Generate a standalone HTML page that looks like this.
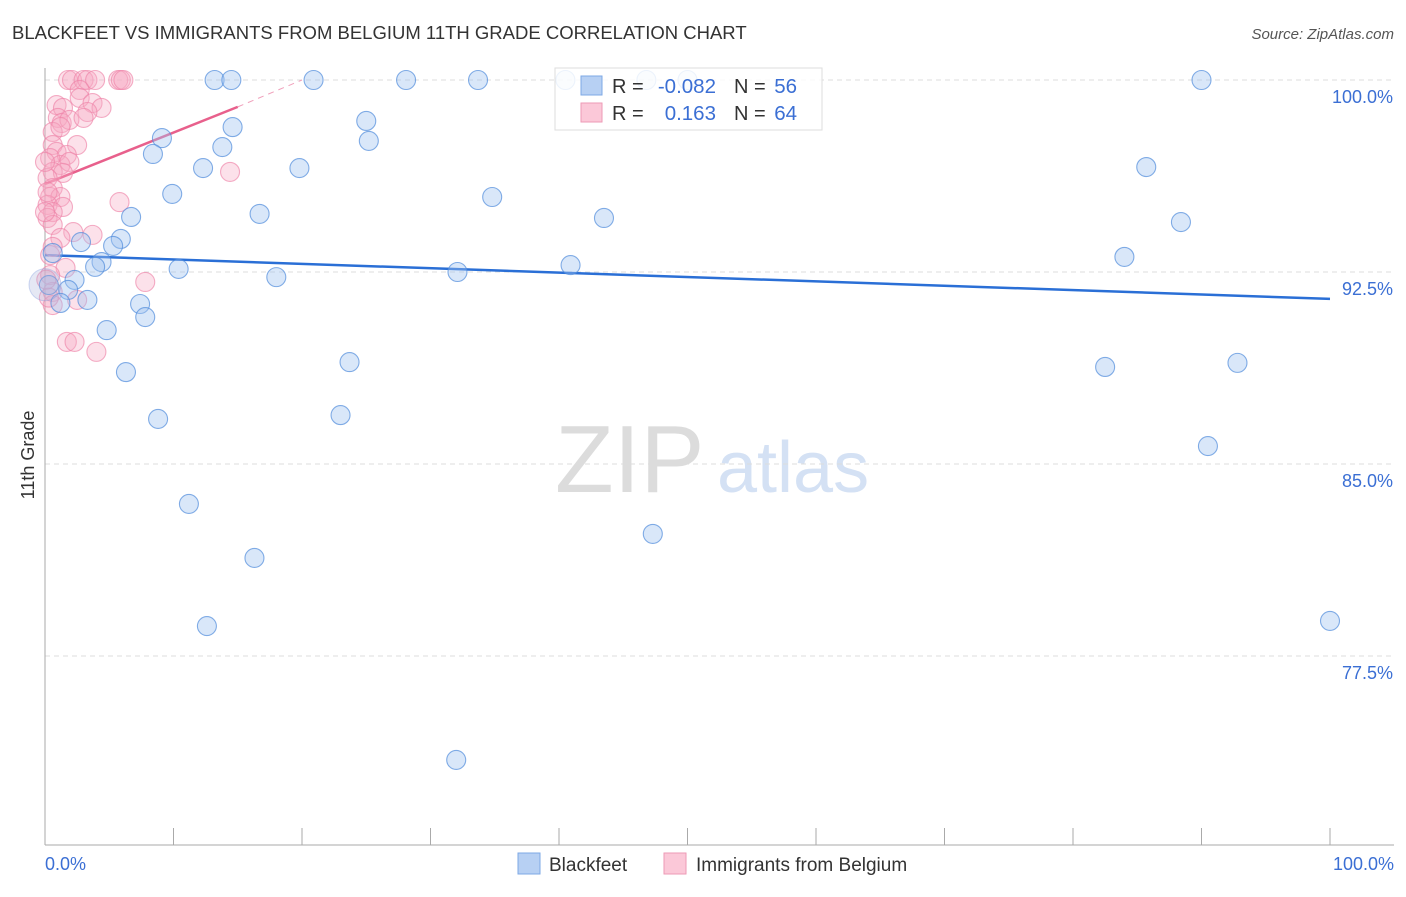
<!DOCTYPE html>
<html><head><meta charset="utf-8"><style>
body{margin:0;background:#fff;font-family:"Liberation Sans",sans-serif}
svg text{font-family:"Liberation Sans",sans-serif}
</style></head><body>
<svg id="chart" width="1406" height="892" xmlns="http://www.w3.org/2000/svg">
<text x="12" y="39" font-size="18.5" fill="#333">BLACKFEET VS IMMIGRANTS FROM BELGIUM 11TH GRADE CORRELATION CHART</text>
<text x="1394" y="39" font-size="15" fill="#555" text-anchor="end" font-style="italic">Source: ZipAtlas.com</text>
<g>
<text x="555" y="492" font-size="96" fill="#dcdcdc" font-family="Liberation Serif,serif">ZIP</text>
<text x="717" y="492" font-size="72" fill="#d4e1f4">atlas</text>
</g>
<g id="grid"></g>
<g id="axes"></g>
<g id="trends"></g>
<g id="points"></g>
<text transform="translate(34,455) rotate(-90)" font-size="18" fill="#333" text-anchor="middle">11th Grade</text>
<g>
<rect x="555" y="68" width="267" height="62" fill="rgba(255,255,255,0.85)" stroke="#ddd"/>
<rect x="581" y="76" width="21" height="19" fill="#b7d0f3" stroke="#7ea8e6"/>
<rect x="581" y="103" width="21" height="19" fill="#fbc8d8" stroke="#ee9ab6"/>
<text x="612" y="93" font-size="20" fill="#333">R =</text>
<text x="716" y="93" font-size="20.5" fill="#3b6fd4" text-anchor="end">-0.082</text>
<text x="734" y="93" font-size="20" fill="#333">N =</text>
<text x="797" y="93" font-size="20.5" fill="#3b6fd4" text-anchor="end">56</text>
<text x="612" y="120" font-size="20" fill="#333">R =</text>
<text x="716" y="120" font-size="20.5" fill="#3b6fd4" text-anchor="end">0.163</text>
<text x="734" y="120" font-size="20" fill="#333">N =</text>
<text x="797" y="120" font-size="20.5" fill="#3b6fd4" text-anchor="end">64</text>
</g>
<g>
<rect x="518" y="853" width="22" height="21" fill="#b7d0f3" stroke="#7ea8e6"/>
<text x="549" y="871" font-size="19" fill="#333">Blackfeet</text>
<rect x="664" y="853" width="22" height="21" fill="#fbc8d8" stroke="#ee9ab6"/>
<text x="696" y="871" font-size="19" fill="#333">Immigrants from Belgium</text>
</g>
</svg>
<script>
const yTicks=[100,92.5,85,77.5];
const yTickLabels=["100.0%","92.5%","85.0%","77.5%"];
const xTickLabels=["0.0%","100.0%"];
const blueX=[13.2,14.5,20.9,28.1,33.7,40.5,46.8,50.0,90.0,9.1,14.6,8.4,13.8,25.0,25.2,12.3,19.8,9.9,6.7,16.7,34.8,43.5,85.7,88.4,5.9,2.8,5.3,4.4,3.9,10.4,18.0,32.1,40.9,84.0,0.6,0.3,2.3,1.8,1.2,3.3,7.4,7.8,4.8,23.7,6.3,82.5,92.8,8.8,23.0,90.5,11.2,47.3,16.3,12.6,100,32.0];
const blueY=[100,100,100,100,100,100,100,100,100,97.73,98.16,97.11,97.38,98.4,97.62,96.56,96.56,95.55,94.65,94.77,95.43,94.61,96.6,94.45,93.79,93.67,93.52,92.89,92.7,92.62,92.3,92.5,92.77,93.09,93.24,91.99,92.19,91.8,91.29,91.41,91.25,90.74,90.23,88.98,88.59,88.79,88.95,86.76,86.91,85.7,83.44,82.27,81.33,78.67,78.87,73.44];
const pinkX=[1.8,2.1,3.0,3.3,3.9,5.7,5.9,6.1,2.7,0.9,1.4,2.7,3.7,4.4,3.3,1.0,1.3,1.9,3.0,0.6,1.2,2.5,0.6,0.9,1.7,0.4,1.2,1.9,0.6,1.4,0.2,0.6,0.4,1.2,0.2,1.4,0.6,0.2,0.6,2.2,3.7,1.2,5.8,14.4,0.6,0.4,1.6,0.4,7.8,0.6,2.5,0.6,1.7,2.3,4.0,0,0.2,0,0.3,0.1];
const pinkY=[100,100,100,100,100,100,100,100,99.61,99.02,98.91,99.3,99.1,98.91,98.75,98.52,98.32,98.44,98.52,97.97,98.16,97.46,97.46,97.19,97.07,96.95,96.68,96.8,96.41,96.37,96.17,95.78,95.43,95.43,95.12,95.04,94.84,94.61,94.34,94.06,93.95,93.83,95.23,96.41,93.48,93.16,92.66,92.38,92.11,91.72,91.41,91.21,89.77,89.77,89.38,96.8,95.62,94.84,91.5,92.2];
const blueTrendX=[0,100], blueTrendY=[93.16,91.45];
const pinkTrendX=[0,15], pinkTrendY=[95.94,98.95];
const pinkDashX=[15,20], pinkDashY=[98.95,100];

const NS="http://www.w3.org/2000/svg";
const xs=v=>45+v*12.85;
const ys=v=>80+(100-v)*25.6;
function mk(tag,attrs,parent){const e=document.createElementNS(NS,tag);for(const k in attrs)e.setAttribute(k,attrs[k]);document.getElementById(parent).appendChild(e);return e;}

yTicks.forEach((t,i)=>{
  const l=mk('line',{x1:45,x2:1394,y1:ys(t),y2:ys(t),stroke:'#ddd','stroke-dasharray':'5,4'},'grid');
  
  
  const tx=mk('text',{x:1393,y:ys(t)+23,'font-size':18,fill:'#3b6fd4','text-anchor':'end'},'grid');
  tx.textContent=yTickLabels[i];
  
  
});
const ax=mk('line',{x1:45,x2:45,y1:68,y2:845,stroke:'#aaa'},'axes');


const bx=mk('line',{x1:45,x2:1394,y1:845,y2:845,stroke:'#aaa'},'axes');


for(let i=0;i<=10;i++){
  const t=mk('line',{x1:xs(i*10),x2:xs(i*10),y1:828,y2:845,stroke:'#aaa'},'axes');
  
  
}
[[0,'start',45],[100,'end',1394]].forEach((d,i)=>{
  const t=mk('text',{x:d[2],y:870,'font-size':18,fill:'#3b6fd4','text-anchor':d[1]},'axes');
  t.textContent=xTickLabels[i];
  
  
});

pinkX.forEach((x,i)=>{
  const c=mk('circle',{cx:xs(x),cy:ys(pinkY[i]),r:9.5,fill:'rgba(246,168,195,0.35)',stroke:'rgba(238,130,168,0.65)','stroke-width':1.1},'points');
  
  
});
blueX.forEach((x,i)=>{
  const c=mk('circle',{cx:xs(x),cy:ys(blueY[i]),r:9.5,fill:'rgba(160,195,240,0.4)',stroke:'rgba(80,140,220,0.7)','stroke-width':1.1},'points');
  
  
});
const big=mk('circle',{cx:xs(0),cy:ys(92),r:16,fill:'rgba(170,180,220,0.3)',stroke:'rgba(120,150,220,0.35)'},'points');



const bt=mk('line',{x1:xs(blueTrendX[0]),y1:ys(blueTrendY[0]),x2:xs(blueTrendX[1]),y2:ys(blueTrendY[1]),stroke:'#2a6fd6','stroke-width':2.5},'trends');


const pt=mk('line',{x1:xs(pinkTrendX[0]),y1:ys(pinkTrendY[0]),x2:xs(pinkTrendX[1]),y2:ys(pinkTrendY[1]),stroke:'#e8608c','stroke-width':2.5},'trends');


const pd=mk('line',{x1:xs(pinkDashX[0]),y1:ys(pinkDashY[0]),x2:xs(pinkDashX[1]),y2:ys(pinkDashY[1]),stroke:'#f0a0bb','stroke-width':1,'stroke-dasharray':'6,5'},'trends');


</script>
</body></html>
